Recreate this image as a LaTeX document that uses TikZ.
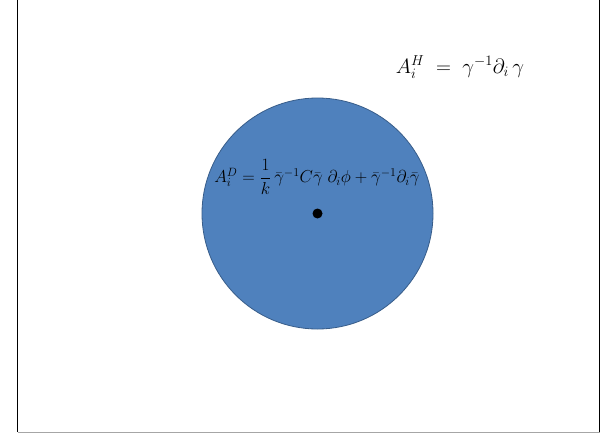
\documentclass[tikz,border=0pt]{standalone}
\usepackage{amsmath}
\begin{document}
\begin{tikzpicture}[x=1pt,y=-1pt,
  frameline/.style={draw=black,line width=1.2pt},
  disc/.style={circle,fill=blueFill,draw=blueEdge,line width=0.8pt,minimum size=231pt,inner sep=0pt},
  eq/.style={inner sep=0pt,text=black}]
\definecolor{blueFill}{HTML}{4F81BD}
\definecolor{blueEdge}{HTML}{385D8A}
\useasboundingbox (0,0) rectangle (601,433);
\fill[white] (0,0) rectangle (601,433);
\coordinate (tl) at (17.5,0);
\coordinate (bl) at (17.5,432);
\coordinate (tr) at (599.5,0);
\coordinate (br) at (599.5,432);
\draw[frameline] (tl) -- (bl);
\draw[frameline] (tr) -- (br);
\draw[gray!70,line width=0.8pt] (bl) -- (br);
\node[disc] (c) at (317.5,213.5) {};
\fill[black] (c.center) circle (5pt);
\node[eq,font=\fontsize{20}{24}\selectfont] (h) at (460,67) {$A_i^{H}\;=\;\gamma^{-1}\partial_i\,\gamma$};
\node[eq,font=\fontsize{17.5}{21}\selectfont] (d) at (317,177) {$A_i^{D} = \dfrac{1}{k}\,\bar\gamma^{-1}C\bar\gamma\;\partial_i\phi + \bar\gamma^{-1}\partial_i\bar\gamma$};
\end{tikzpicture}
\end{document}
